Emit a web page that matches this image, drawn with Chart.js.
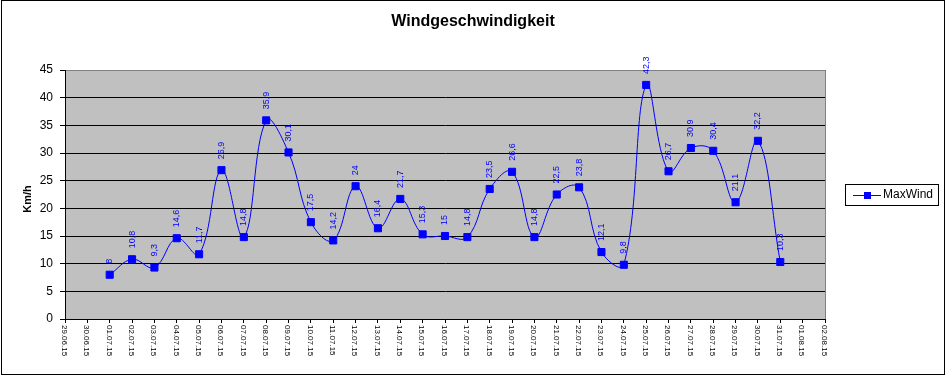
<!DOCTYPE html>
<html>
<head>
<meta charset="utf-8">
<script src="https://cdn.jsdelivr.net/npm/chart.js@4/dist/chart.umd.min.js"></script>
<style>
  html, body { margin: 0; padding: 0; background: #fff; }
  canvas { display: block; }
</style>
</head>
<body>
<canvas id="chart" width="946" height="375"></canvas>
<script>
// x axis dates (dd.mm.yy)
const dates = ['29.06.15', '30.06.15', '01.07.15', '02.07.15', '03.07.15', '04.07.15', '05.07.15',
  '06.07.15', '07.07.15', '08.07.15', '09.07.15', '10.07.15', '11.07.15', '12.07.15', '13.07.15',
  '14.07.15', '15.07.15', '16.07.15', '17.07.15', '18.07.15', '19.07.15', '20.07.15', '21.07.15',
  '22.07.15', '23.07.15', '24.07.15', '25.07.15', '26.07.15', '27.07.15', '28.07.15', '29.07.15',
  '30.07.15', '31.07.15', '01.08.15', '02.08.15'];

// max wind per day in km/h (no data for the first two and last two days)
const maxWind = [null, null, 8, 10.8, 9.3, 14.6, 11.7, 26.9, 14.8, 35.9, 30.1, 17.5, 14.2, 24,
  16.4, 21.7, 15.3, 15, 14.8, 23.5, 26.6, 14.8, 22.5, 23.8, 12.1, 9.8, 42.3, 26.7, 30.9, 30.4,
  21.1, 32.2, 10.3, null, null];

const yTicks = [0, 5, 10, 15, 20, 25, 30, 35, 40, 45];

const chartTitle = 'Windgeschwindigkeit';
const yTitle = 'Km/h';
const seriesName = 'MaxWind';

const blue = '#0000ff';
const font = 'Arial, "Liberation Sans", sans-serif';

function fmt(v) {
    return String(v).replace('.', ',');
}

// white page, outer frame, grey plot area
const backgroundPlugin = {
    id: 'background',
    beforeDraw(chart) {
        const ctx = chart.ctx;
        const a = chart.chartArea;
        ctx.save();
        ctx.fillStyle = '#ffffff';
        ctx.fillRect(0, 0, chart.width, chart.height);
        ctx.fillStyle = '#c0c0c0';
        ctx.fillRect(a.left, a.top, a.right - a.left, a.bottom - a.top);
        ctx.strokeStyle = '#000000';
        ctx.lineWidth = 1;
        ctx.strokeRect(1.5, 0.5, 943, 374);
        ctx.restore();
    },
    beforeDatasetsDraw(chart) {
        const ctx = chart.ctx;
        const a = chart.chartArea;
        ctx.save();
        ctx.strokeStyle = '#808080';
        ctx.lineWidth = 1;
        ctx.beginPath();
        ctx.moveTo(Math.round(a.right) + 0.5, a.top);
        ctx.lineTo(Math.round(a.right) + 0.5, a.bottom);
        ctx.stroke();
        ctx.restore();
    }
};

// value labels, rotated x labels, titles and legend box
const labelsPlugin = {
    id: 'labels',
    afterDatasetsDraw(chart) {
        const ctx = chart.ctx;
        const meta = chart.getDatasetMeta(0);
        ctx.save();
        ctx.fillStyle = blue;
        ctx.font = '9px ' + font;
        ctx.textAlign = 'left';
        ctx.textBaseline = 'middle';
        meta.data.forEach(function (pt, i) {
            if (maxWind[i] === null) return;
            ctx.save();
            ctx.translate(pt.x, pt.y - 11);
            ctx.rotate(-Math.PI / 2);
            ctx.fillText(fmt(maxWind[i]), 0, 0);
            ctx.restore();
        });
        ctx.restore();
    },
    afterDraw(chart) {
        const ctx = chart.ctx;
        const xScale = chart.scales.x;
        const a = chart.chartArea;
        ctx.save();

        // chart title, centred on the whole picture
        ctx.fillStyle = '#000000';
        ctx.font = 'bold 16px ' + font;
        ctx.textAlign = 'center';
        ctx.textBaseline = 'middle';
        ctx.fillText(chartTitle, chart.width / 2, 22);

        // x labels, turned clockwise
        ctx.font = '8px ' + font;
        ctx.textAlign = 'left';
        dates.forEach(function (d, i) {
            const x = xScale.getPixelForTick(i);
            ctx.save();
            ctx.translate(x - 1, a.bottom + 6);
            ctx.rotate(Math.PI / 2);
            ctx.fillText(d, 0, 0);
            ctx.restore();
        });

        // y axis title
        ctx.font = 'bold 11px ' + font;
        ctx.textAlign = 'center';
        ctx.save();
        ctx.translate(28, 199);
        ctx.rotate(-Math.PI / 2);
        ctx.fillText(yTitle, 0, 0);
        ctx.restore();

        // legend
        ctx.strokeStyle = '#000000';
        ctx.lineWidth = 1;
        ctx.strokeRect(845.5, 184.5, 93, 21);
        ctx.strokeStyle = blue;
        ctx.beginPath();
        ctx.moveTo(853, 195.5);
        ctx.lineTo(881, 195.5);
        ctx.stroke();
        ctx.fillStyle = blue;
        ctx.fillRect(864, 192, 7, 7);
        ctx.fillStyle = '#000000';
        ctx.font = '12px ' + font;
        ctx.textAlign = 'left';
        ctx.fillText(seriesName, 883, 195);

        ctx.restore();
    }
};

const ctx = document.getElementById('chart');
const myChart = new Chart(ctx, {
    type: 'line',
    data: {
        labels: dates,
        datasets: [{
            label: seriesName,
            data: maxWind,
            borderColor: blue,
            borderWidth: 1,
            backgroundColor: blue,
            pointStyle: 'rect',
            pointRadius: 5,
            pointBorderWidth: 1,
            pointBackgroundColor: blue,
            pointBorderColor: blue,
            tension: 0.4,
            fill: false
        }]
    },
    options: {
        responsive: false,
        animation: false,
        devicePixelRatio: 1,
        layout: {
            padding: { left: 0, right: 121, top: 70, bottom: 0 }
        },
        plugins: {
            legend: { display: false },
            tooltip: { enabled: false },
            title: { display: false }
        },
        scales: {
            x: {
                type: 'category',
                offset: false,
                afterFit: function (scale) { scale.height = 56; },
                grid: {
                    display: true,
                    drawOnChartArea: false,
                    drawTicks: true,
                    tickLength: 4,
                    color: '#000000'
                },
                border: { display: true, color: '#000000', width: 1 },
                ticks: { display: false, autoSkip: false }
            },
            y: {
                min: yTicks[0],
                max: yTicks[yTicks.length - 1],
                afterFit: function (scale) { scale.width = 65; },
                afterBuildTicks: function (scale) {
                    scale.ticks = yTicks.map(function (v) { return { value: v }; });
                },
                grid: {
                    color: function (c) {
                        return c.tick && c.tick.value === 45 ? '#808080' : '#000000';
                    },
                    tickColor: '#000000',
                    tickLength: 5,
                    drawTicks: true
                },
                border: { display: true, color: '#000000', width: 1 },
                ticks: {
                    color: '#000000',
                    padding: 7,
                    font: { family: font, size: 12 }
                }
            }
        }
    },
    plugins: [backgroundPlugin, labelsPlugin]
});
</script>
</body>
</html>
